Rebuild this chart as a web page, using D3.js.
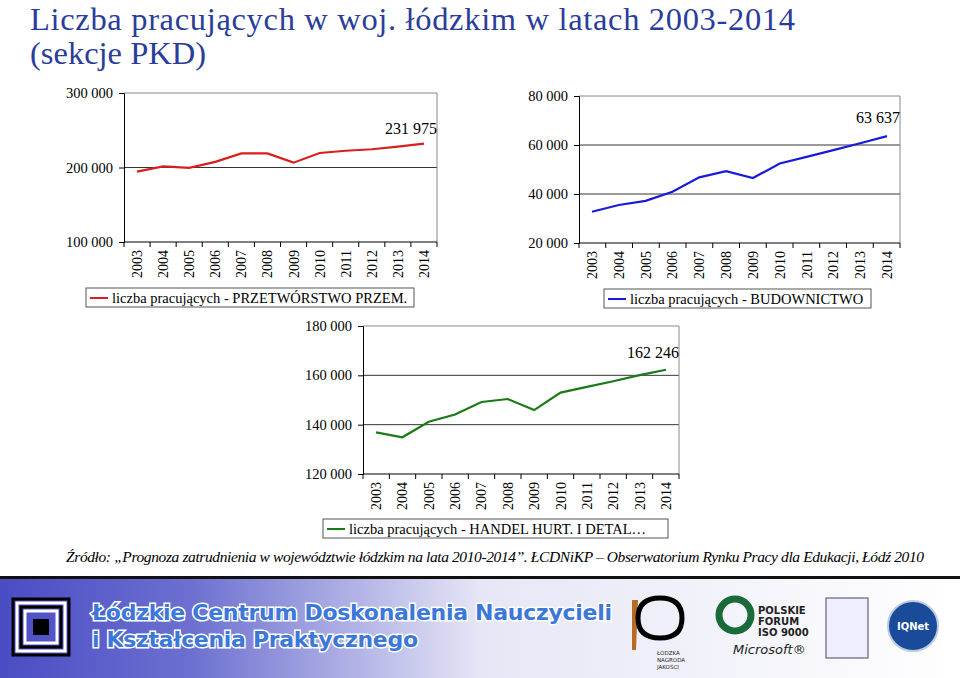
<!DOCTYPE html>
<html><head><meta charset="utf-8">
<script src="https://cdn.jsdelivr.net/npm/d3@7"></script>
<style>body{margin:0;background:#fff}svg{display:block}</style>
</head><body>
<script>
const years = ["2003","2004","2005","2006","2007","2008","2009","2010","2011","2012","2013","2014"];
const przemyslValues = [194500,201500,199500,207500,219000,219000,206500,219500,222500,224500,228000,231975];
const budowValues = [32750,35500,37200,40900,46800,49300,46500,52450,55150,57900,60700,63637];
const handelValues = [136900,134900,141200,144100,149200,150400,145900,153000,155300,157600,160100,162246];
const przemyslTicks = [100000,200000,300000];
const budowTicks = [20000,40000,60000,80000];
const handelTicks = [120000,140000,160000,180000];
const legendLabels = ["liczba pracujących - PRZETWÓRSTWO PRZEM.","liczba pracujących - BUDOWNICTWO","liczba pracujących - HANDEL HURT. I DETAL…"];

const W=960,H=678;
const svg=d3.select("body").append("svg").attr("width",W).attr("height",H);
const serif="'Liberation Serif', 'DejaVu Serif', serif";
const fmt=v=>d3.format(",")(v).replace(/,/g," ");

svg.append("text").attr("x",30).attr("y",30).attr("fill","#2a3d9c").style("font-family",serif).attr("font-size",32.5).attr("textLength",765).text("Liczba pracujących w woj. łódzkim w latach 2003-2014");
svg.append("text").attr("x",30).attr("y",64).attr("fill","#2a3d9c").style("font-family",serif).attr("font-size",32.5).text("(sekcje PKD)");

function chart(o){
  const x=d3.scalePoint().domain(years).range([o.x0+o.pad,o.x1-o.pad]);
  const y=d3.scaleLinear().domain(o.domain).range([o.y1,o.y0]);
  const g=svg.append("g").style("font-family",serif);
  g.selectAll(".gl").data(o.ticks.slice(1,-1)).join("line")
    .attr("x1",o.x0).attr("x2",o.x1).attr("y1",d=>y(d)).attr("y2",d=>y(d)).attr("stroke","#000").attr("stroke-width",0.8);
  g.append("line").attr("x1",o.x1).attr("x2",o.x1).attr("y1",o.y0).attr("y2",o.y1).attr("stroke","#888");
  g.append("line").attr("x1",o.x0).attr("x2",o.x1).attr("y1",o.y0).attr("y2",o.y0).attr("stroke","#888");
  const ya=g.append("g").attr("transform",`translate(${o.x0},0)`).call(d3.axisLeft(y).tickValues(o.ticks).tickFormat(fmt).tickSize(5));
  ya.attr("font-family",null);
  ya.selectAll("text").style("font-family",serif).attr("font-size",14.5).attr("fill","#000").attr("dx",-3);
  ya.select(".domain").attr("stroke","#000");
  const xa=g.append("g").attr("transform",`translate(0,${o.y1})`);
  xa.append("line").attr("x1",o.x0).attr("x2",o.x1).attr("stroke","#000");
  xa.selectAll(".tk").data(d3.range(years.length+1)).join("line")
    .attr("x1",i=>o.x0+i*(o.x1-o.x0)/years.length).attr("x2",i=>o.x0+i*(o.x1-o.x0)/years.length).attr("y1",0).attr("y2",5).attr("stroke","#000");
  xa.selectAll("text").data(years).join("text")
    .attr("transform",d=>`translate(${x(d)+5},8) rotate(-90)`).attr("text-anchor","end")
    .style("font-family",serif).attr("font-size",14).text(d=>d);
  g.append("path").datum(o.values).attr("fill","none").attr("stroke",o.color).attr("stroke-width",2.2)
    .attr("d",d3.line().x((d,i)=>x(years[i])).y(d=>y(d)));
  const last=o.values[o.values.length-1];
  g.append("text").attr("x",x(years[years.length-1])+13).attr("y",y(last)-o.lblOff).attr("text-anchor","end")
    .style("font-family",serif).attr("font-size",16).text(fmt(last));
  const L=o.legend;
  g.append("rect").attr("x",L[0]).attr("y",L[1]).attr("width",L[2]).attr("height",19).attr("fill","#fff").attr("stroke","#555");
  g.append("line").attr("x1",L[0]+4).attr("x2",L[0]+22).attr("y1",L[1]+10).attr("y2",L[1]+10).attr("stroke",o.color).attr("stroke-width",2);
  g.append("text").attr("x",L[0]+26).attr("y",L[1]+14.5).style("font-family",serif).attr("font-size",14.5).text(o.label);
}
chart({x0:124,x1:437,y0:93,y1:242,pad:13,domain:[100000,300000],ticks:przemyslTicks,values:przemyslValues,color:"#d81e1e",lblOff:10,legend:[86,288,328],label:legendLabels[0]});
chart({x0:579,x1:900,y0:96,y1:243,pad:13,domain:[20000,80000],ticks:budowTicks,values:budowValues,color:"#1a1ad8",lblOff:13,legend:[604,289,267],label:legendLabels[1]});
chart({x0:363,x1:679,y0:326,y1:474,pad:13,domain:[120000,180000],ticks:handelTicks,values:handelValues,color:"#1a7a1a",lblOff:12,legend:[323,519,345],label:legendLabels[2]});

svg.append("text").attr("x",66).attr("y",562).style("font-family",serif).attr("font-style","italic").attr("font-size",15.5).attr("textLength",858)
  .text("Źródło: „Prognoza zatrudnienia w województwie łódzkim na lata 2010-2014”. ŁCDNiKP – Obserwatorium Rynku Pracy dla Edukacji, Łódź 2010");

const defs=svg.append("defs");
const gr=defs.append("linearGradient").attr("id","bg");
gr.append("stop").attr("offset","0").attr("stop-color","#4a4cc4");
gr.append("stop").attr("offset","0.2").attr("stop-color","#6d70d0");
gr.append("stop").attr("offset","0.5").attr("stop-color","#e6e6f6");
gr.append("stop").attr("offset","1").attr("stop-color","#ffffff");
svg.append("rect").attr("x",0).attr("y",576).attr("width",W).attr("height",3).attr("fill","#111");
svg.append("rect").attr("x",0).attr("y",579).attr("width",W).attr("height",99).attr("fill","url(#bg)");
[0,1,2,3].forEach(k=>{
  svg.append("rect").attr("x",13+k*4).attr("y",599+k*4).attr("width",56-k*8).attr("height",56-k*8).attr("fill","none").attr("stroke",k%2?"#fff":"#000").attr("stroke-width",3);
});
svg.append("rect").attr("x",33).attr("y",619).attr("width",16).attr("height",16).attr("fill","#000");
const ft=svg.append("g").attr("font-family","DejaVu Sans, sans-serif").attr("font-weight","bold").attr("font-size",22).attr("fill","#3b78d8").attr("stroke","#fff").attr("stroke-width",3).attr("paint-order","stroke");
ft.append("text").attr("x",92).attr("y",620).attr("textLength",520).text("Łódzkie Centrum Doskonalenia Nauczycieli");
ft.append("text").attr("x",92).attr("y",647).attr("textLength",326).text("i Kształcenia Praktycznego");
const sans="DejaVu Sans, sans-serif";
svg.append("path").attr("d","M632,600 l6,0 l-2,50 l-4,0z").attr("fill","#b86a20");
svg.append("path").attr("d","M660,598 q22,0 22,20 q0,20 -22,20 q-22,0 -22,-20 q0,-20 22,-20z").attr("fill","none").attr("stroke","#000").attr("stroke-width",5);
svg.append("text").attr("x",657).attr("y",655).attr("font-family",sans).attr("font-size",5.5).attr("fill","#222").text("ŁÓDZKA");
svg.append("text").attr("x",657).attr("y",662).attr("font-family",sans).attr("font-size",5.5).attr("fill","#222").text("NAGRODA");
svg.append("text").attr("x",657).attr("y",669).attr("font-family",sans).attr("font-size",5.5).attr("fill","#222").text("JAKOŚCI");
svg.append("circle").attr("cx",735).attr("cy",615).attr("r",16).attr("fill","none").attr("stroke","#1a6a3a").attr("stroke-width",7);
["POLSKIE","FORUM","ISO 9000"].forEach((t,i)=>svg.append("text").attr("x",758).attr("y",614+i*11).attr("font-family",sans).attr("font-size",10).attr("font-weight","bold").attr("fill","#222").text(t));
svg.append("text").attr("x",733).attr("y",654).attr("font-family",sans).attr("font-style","italic").attr("font-size",13).attr("fill","#222").text("Microsoft®");
svg.append("rect").attr("x",826).attr("y",598).attr("width",42).attr("height",60).attr("fill","#eef").attr("stroke","#446");
svg.append("circle").attr("cx",913).attr("cy",626).attr("r",25).attr("fill","#1a4a9a").attr("stroke","#bcd").attr("stroke-width",2);
svg.append("text").attr("x",913).attr("y",630).attr("text-anchor","middle").attr("font-family",sans).attr("font-size",10).attr("font-weight","bold").attr("fill","#fff").text("IQNet");
</script>
</body></html>
